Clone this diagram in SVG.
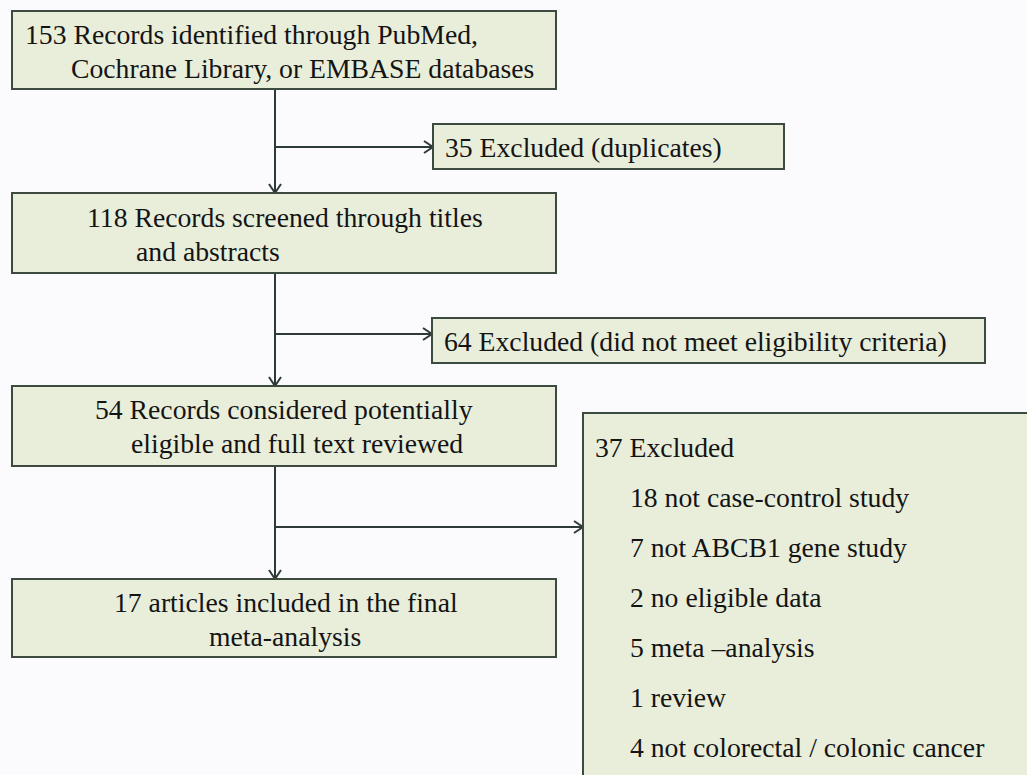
<svg xmlns="http://www.w3.org/2000/svg" width="1027" height="775" viewBox="0 0 1027 775">
<style>
.box{fill:#e9eedb;stroke:#3c4a40;stroke-width:2}
.t{font-family:"Liberation Serif","Times New Roman",serif;font-size:27.7px;fill:#141414}
.c{fill:none;stroke:#2e3a35;stroke-width:2}
</style>
<defs>
<marker id="ah" markerWidth="14" markerHeight="14" refX="12" refY="7" orient="auto" markerUnits="userSpaceOnUse">
<polyline points="3,1 12,7 3,13" fill="none" stroke="#2e3a35" stroke-width="2"/>
</marker>
</defs>
<rect width="1027" height="775" fill="#fbfbfd"/>
<g id="connectors">
<line class="c" x1="275" y1="89" x2="275" y2="193" marker-end="url(#ah)"/>
<line class="c" x1="275" y1="147" x2="433" y2="147" marker-end="url(#ah)"/>
<line class="c" x1="275" y1="273" x2="275" y2="386" marker-end="url(#ah)"/>
<line class="c" x1="275" y1="334" x2="432" y2="334" marker-end="url(#ah)"/>
<line class="c" x1="275" y1="466" x2="275" y2="579" marker-end="url(#ah)"/>
<line class="c" x1="275" y1="527" x2="583" y2="527" marker-end="url(#ah)"/>
</g>
<g id="n1"><rect class="box" x="12" y="11" width="544" height="78"/>
<text class="t" x="25" y="44">153 Records identified through PubMed,</text>
<text class="t" x="71" y="78">Cochrane Library, or EMBASE databases</text></g>
<g id="n2"><rect class="box" x="433" y="124" width="351" height="45"/>
<text class="t" x="445" y="157">35 Excluded (duplicates)</text></g>
<g id="n3"><rect class="box" x="12" y="193" width="544" height="80"/>
<text class="t" x="87" y="227">118 Records screened through titles</text>
<text class="t" x="136" y="261">and abstracts</text></g>
<g id="n4"><rect class="box" x="432" y="318" width="553" height="45"/>
<text class="t" x="444" y="351">64 Excluded (did not meet eligibility criteria)</text></g>
<g id="n5"><rect class="box" x="12" y="386" width="544" height="80"/>
<text class="t" x="95" y="419">54 Records considered potentially</text>
<text class="t" x="131" y="453">eligible and full text reviewed</text></g>
<g id="n6"><rect class="box" x="12" y="579" width="544" height="78"/>
<text class="t" x="114" y="612">17 articles included in the final</text>
<text class="t" x="209" y="646">meta-analysis</text></g>
<g id="n7"><rect class="box" x="583" y="413" width="460" height="380"/>
<text class="t" x="595" y="457">37 Excluded</text>
<text class="t" x="630" y="507">18 not case-control study</text>
<text class="t" x="630" y="557">7 not ABCB1 gene study</text>
<text class="t" x="630" y="607">2 no eligible data</text>
<text class="t" x="630" y="657">5 meta –analysis</text>
<text class="t" x="630" y="707">1 review</text>
<text class="t" x="630" y="757">4 not colorectal / colonic cancer</text></g>
</svg>
